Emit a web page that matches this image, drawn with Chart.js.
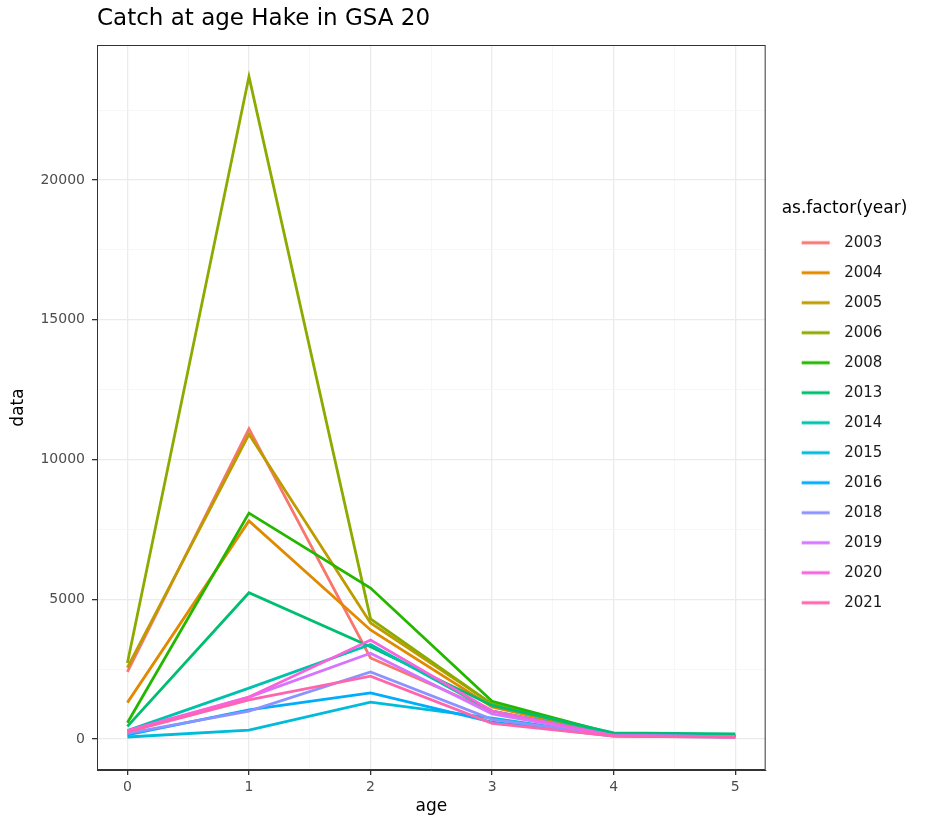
<!DOCTYPE html>
<html>
<head>
<meta charset="utf-8">
<script src="https://cdn.jsdelivr.net/npm/chart.js@4.4.1/dist/chart.umd.min.js"></script>
<style>
  html, body { margin: 0; padding: 0; background: #fff; }
  #wrap { width: 942px; height: 823px; }
</style>
</head>
<body>
<div id="wrap"><canvas id="chart" width="942" height="823"></canvas></div>
<script>
var ages = [0, 1, 2, 3, 4, 5];
var years = ['2003', '2004', '2005', '2006', '2008', '2013', '2014', '2015', '2016', '2018', '2019', '2020', '2021'];
var colours = ['#F8766D', '#E18A00', '#BE9C00', '#8CAB00', '#24B700', '#00BE70', '#00C1AB',
               '#00BBDA', '#00ACFC', '#8B93FF', '#D575FE', '#F962DD', '#FF65AC'];

var c2003 = [2400, 11100, 2900, 1000, 150, 100];
var c2004 = [1300, 7800, 3900, 1150, 150, 100];
var c2005 = [2550, 10900, 4150, 1250, 150, 100];
var c2006 = [2720, 23700, 4300, 1250, 150, 100];
var c2008 = [580, 8080, 5400, 1350, 180, 130];
var c2013 = [450, 5230, 3300, 1200, 220, 180];
var c2014 = [300, 1820, 3380, 1000, 150, 100];
var c2015 = [70, 320, 1320, 750, 120, 80];
var c2016 = [150, 1040, 1650, 600, 100, 70];
var c2018 = [200, 1000, 2400, 700, 120, 80];
var c2019 = [250, 1500, 3070, 900, 120, 80];
var c2020 = [300, 1500, 3540, 1000, 120, 80];
var c2021 = [250, 1400, 2250, 560, 100, 60];

var series = [c2003, c2004, c2005, c2006, c2008, c2013, c2014, c2015, c2016, c2018, c2019, c2020, c2021];

var xTicks = [0, 0.5, 1, 1.5, 2, 2.5, 3, 3.5, 4, 4.5, 5];
var yTicks = [0, 2500, 5000, 7500, 10000, 12500, 15000, 17500, 20000, 22500];

var FONT = 'DejaVu Sans, Liberation Sans, sans-serif';

// little line swatch for the legend key (blank space on the left, 28px line)
var keySwatch = function(col) {
    var c = document.createElement('canvas');
    c.width = 40;
    c.height = 6;
    var g = c.getContext('2d');
    g.strokeStyle = col;
    g.lineWidth = 3;
    g.beginPath();
    g.moveTo(5, 3);
    g.lineTo(33, 3);
    g.stroke();
    return c;
};

var datasets = [];
for (var i in years) {
    datasets.push({
        label: years[i],
        data: ages.map(function(a, k) { return {x: a, y: series[i][k]}; }),
        borderColor: colours[i],
        backgroundColor: colours[i],
        borderWidth: 2.8,
        pointRadius: 0,
        pointStyle: keySwatch(colours[i]),
        tension: 0,
        order: -i
    });
}

var isMajorX = function(v) { return Math.abs(v - Math.round(v)) < 1e-9; };
var isMajorY = function(v) { return v % 5000 === 0; };

var panelBorder = {
    id: 'panelBorder',
    afterDatasetsDraw: function(chart) {
        var a = chart.chartArea, ctx = chart.ctx;
        ctx.save();
        ctx.strokeStyle = '#333333';
        ctx.lineWidth = 1;
        ctx.strokeRect(a.left + 0.5, a.top + 0.5, a.right - a.left - 1, a.bottom - a.top - 1);
        ctx.restore();
    }
};

var ctx = document.getElementById('chart');
var chart = new Chart(ctx, {
    type: 'line',
    data: { datasets: datasets },
    plugins: [panelBorder],
    options: {
        responsive: false,
        animation: false,
        layout: { padding: { left: 0, right: 4, top: 0, bottom: 0 } },
        plugins: {
            tooltip: { enabled: false },
            title: {
                display: true,
                text: 'Catch at age Hake in GSA 20',
                align: 'start',
                fullSize: false,
                color: '#000',
                font: { family: FONT, size: 23, weight: 'normal' },
                padding: { top: 5, bottom: 12.4 }
            },
            legend: {
                position: 'right',
                align: 'center',
                title: {
                    display: true,
                    text: 'as.factor(year)',
                    position: 'start',
                    color: '#000',
                    font: { family: FONT, size: 17 },
                    padding: { top: 2, bottom: 0 }
                },
                labels: {
                    usePointStyle: true,
                    pointStyleWidth: 40,
                    boxHeight: 15,
                    padding: 15,
                    color: '#1a1a1a',
                    font: { family: FONT, size: 15 },
                    sort: function(a, b) { return a.datasetIndex - b.datasetIndex; },
                    // pad the label text so the legend box is wide enough for its title
                    generateLabels: function(chart) {
                        var items = Chart.defaults.plugins.legend.labels.generateLabels(chart);
                        items.forEach(function(it) { it.text = it.text + '\u00a0\u00a0\u00a0\u00a0\u00a0\u00a0\u00a0\u00a0\u00a0\u00a0\u00a0\u00a0'; });
                        return items;
                    }
                }
            }
        },
        scales: {
            x: {
                type: 'linear',
                min: -0.25,
                max: 5.25,
                afterBuildTicks: function(scale) {
                    scale.ticks = xTicks.map(function(v) { return {value: v}; });
                },
                afterFit: function(scale) { scale.height = 53; },
                ticks: {
                    autoSkip: false,
                    maxRotation: 0,
                    color: '#4D4D4D',
                    padding: 4,
                    font: { family: FONT, size: 14 },
                    callback: function(v) { return isMajorX(v) ? String(v) : ''; }
                },
                grid: {
                    color: function(c) { return isMajorX(c.tick.value) ? '#EBEBEB' : '#F4F4F4'; },
                    lineWidth: function(c) { return isMajorX(c.tick.value) ? 1.3 : 0.7; },
                    tickColor: function(c) { return isMajorX(c.tick.value) ? '#333333' : 'rgba(0,0,0,0)'; },
                    tickLength: 5
                },
                border: { display: true, color: '#333333', width: 1 },
                title: {
                    display: true,
                    text: 'age',
                    color: '#000',
                    font: { family: FONT, size: 17 },
                    padding: { top: 0, bottom: 6.5 }
                }
            },
            y: {
                type: 'linear',
                min: -1110,
                max: 24830,
                afterBuildTicks: function(scale) {
                    scale.ticks = yTicks.map(function(v) { return {value: v}; });
                },
                afterFit: function(scale) { scale.width = 97; },
                ticks: {
                    autoSkip: false,
                    color: '#4D4D4D',
                    padding: 7,
                    font: { family: FONT, size: 14 },
                    callback: function(v) { return isMajorY(v) ? String(v) : ''; }
                },
                grid: {
                    color: function(c) { return isMajorY(c.tick.value) ? '#EBEBEB' : '#F4F4F4'; },
                    lineWidth: function(c) { return isMajorY(c.tick.value) ? 1.3 : 0.7; },
                    tickColor: function(c) { return isMajorY(c.tick.value) ? '#333333' : 'rgba(0,0,0,0)'; },
                    tickLength: 5
                },
                border: { display: true, color: '#333333', width: 1 },
                title: {
                    display: true,
                    text: 'data',
                    color: '#000',
                    font: { family: FONT, size: 17 },
                    padding: { top: 8, bottom: 0 }
                }
            },
            gap: {
                type: 'linear',
                position: 'right',
                display: true,
                afterFit: function(scale) { scale.width = 16; },
                ticks: { display: false },
                grid: { display: false, drawTicks: false },
                border: { display: false }
            }
        }
    }
});
</script>
</body>
</html>
